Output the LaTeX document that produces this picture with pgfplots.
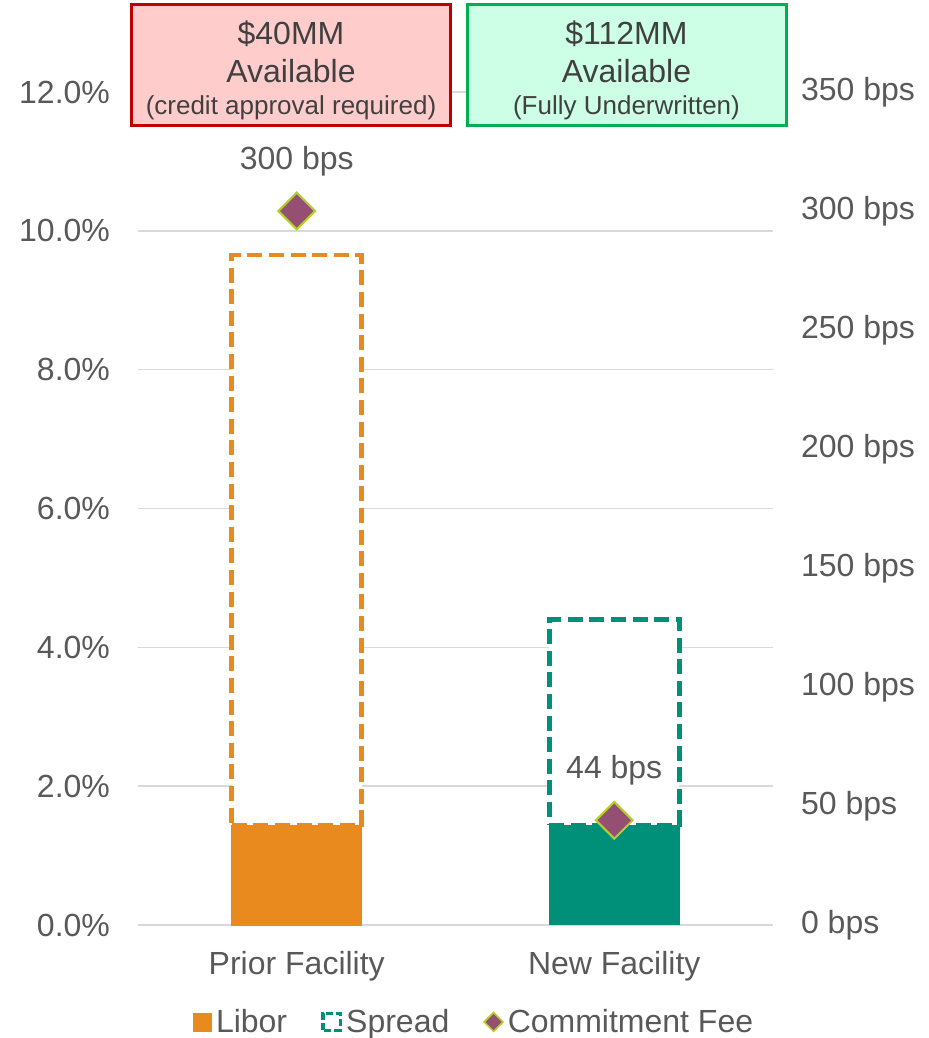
\documentclass[border=0pt]{standalone}
\usepackage{fontspec}
\setmainfont{Liberation Sans}
\usepackage{pgfplots}
\pgfplotsset{compat=1.18}
\definecolor{libor}{HTML}{E88A1D}
\definecolor{teal2}{HTML}{009079}
\definecolor{fee}{HTML}{954F72}
\definecolor{feeedge}{HTML}{B5CF2A}
\definecolor{gridc}{HTML}{D9D9D9}
\definecolor{txt}{HTML}{595959}
\definecolor{boxtxt}{HTML}{404040}
\definecolor{redbox}{HTML}{C00000}
\definecolor{redfill}{HTML}{FFCCCC}
\definecolor{greenbox}{HTML}{00B050}
\definecolor{greenfill}{HTML}{CCFFE5}
\begin{document}
\begin{tikzpicture}
\path[use as bounding box] (-69pt,-56.5pt) rectangle (395pt,462.5pt);
\pgfplotsset{
  common/.style={width=317.5pt, height=416.5pt, scale only axis,
    xmin=-0.5, xmax=1.5, ymin=0,
    /pgf/number format/assume math mode=true,
    tick label style={font=\fontsize{16}{19}\selectfont, text=txt},
    major tick length=0pt, axis line style={draw=none}, clip=false},
}
% Prior facility stack, grid, left axis, legend
\begin{axis}[common, ymax=12, ytick={0,2,...,12},
  ymajorgrids, grid style={draw=gridc, line width=0.75pt},
  yticklabel={\pgfmathprintnumber[fixed,fixed zerofill,precision=1]{\tick}\%},
  yticklabel style={xshift=-10.5pt},
  xtick={0,1}, xticklabels={Prior Facility, New Facility},
  xticklabel style={yshift=-9.5pt},
  ybar stacked, bar width=65pt,
  legend style={at={(0.531,-0.1164)}, anchor=center, draw=none, fill=none,
    legend columns=3, font=\fontsize{16}{19}\selectfont, text=txt,
    /tikz/every even column/.append style={column sep=15pt},
    nodes={inner sep=2pt}},
  legend cell align=left]
\addplot[forget plot, fill=libor, draw=libor, line width=0.5pt] coordinates {(0,1.44)};
\addplot[forget plot, fill=white, draw=libor, line width=2.3pt, dash pattern=on 7.5pt off 3.3pt] coordinates {(0,8.21)};
\addlegendimage{legend image code/.code={\fill[libor] (0pt,-4.5pt) rectangle (9pt,4.5pt);}}
\addlegendentry{Libor}
\addlegendimage{legend image code/.code={\draw[teal2, line width=1.8pt, dash pattern=on 3.5pt off 1.5pt, fill=white] (0.9pt,-4.2pt) rectangle (9.6pt,4.2pt);}}
\addlegendentry{Spread}
\addlegendimage{legend image code/.code={\draw[feeedge, fill=fee, line width=0.8pt] (4.7pt,-4.7pt) -- (9.4pt,0pt) -- (4.7pt,4.7pt) -- (0pt,0pt) -- cycle;}}
\addlegendentry{Commitment Fee}
\end{axis}
% New facility stack
\begin{axis}[common, ymax=12, hide axis, ybar stacked, bar width=65pt]
\addplot[fill=teal2, draw=teal2, line width=0.5pt] coordinates {(1,1.44)};
\addplot[fill=white, draw=teal2, line width=2.3pt, dash pattern=on 7.5pt off 3.3pt] coordinates {(1,2.96)};
\end{axis}
% Commitment fee, right axis
\begin{axis}[common, ymax=350, ytick={0,50,...,350},
  axis y line*=right, axis x line=none,
  yticklabel={\pgfmathprintnumber{\tick} bps},
  yticklabel style={xshift=10.5pt}]
\addplot[only marks, mark=square*, mark size=6.5pt,
  mark options={rotate=45, fill=fee, draw=feeedge, line width=1pt},
  point meta=y,
  nodes near coords={\pgfmathprintnumber{\pgfplotspointmeta} bps},
  every node near coord/.style={font=\fontsize{16}{19}\selectfont, text=txt, anchor=center, yshift=25pt}]
  coordinates {(0,300) (1,44)};
\end{axis}
\node[draw=redbox, line width=1.5pt, fill=redfill, minimum width=159.5pt, minimum height=60.5pt,
  inner sep=0pt] at (76.5pt,430pt) {};
\node[align=center, text=boxtxt, inner sep=0pt, font=\fontsize{16}{19}\selectfont] at (76.5pt,427.5pt)
  {\$40MM\\Available\\[-3pt]{\fontsize{13}{15}\selectfont (credit approval required)}};
\node[draw=greenbox, line width=1.5pt, fill=greenfill, minimum width=159.5pt, minimum height=60.5pt,
  inner sep=0pt] at (244.25pt,430pt) {};
\node[align=center, text=boxtxt, inner sep=0pt, font=\fontsize{16}{19}\selectfont] at (244.25pt,427.5pt)
  {\$112MM\\Available\\[-3pt]{\fontsize{13}{15}\selectfont (Fully Underwritten)}};
\end{tikzpicture}
\end{document}
